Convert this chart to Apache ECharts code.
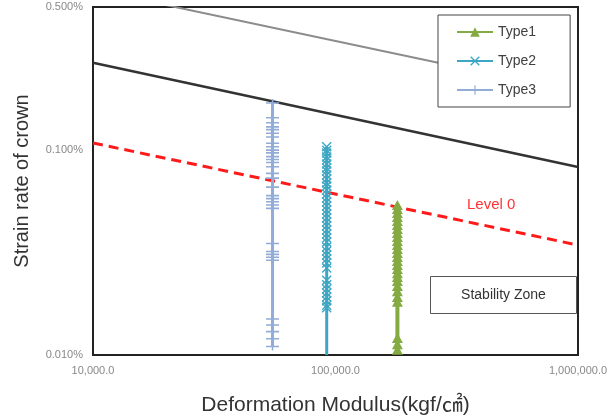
<!DOCTYPE html>
<html>
<head>
<meta charset="utf-8">
<script src="https://cdn.jsdelivr.net/npm/echarts@6/dist/echarts.min.js"></script>
<style>
  html, body { margin: 0; padding: 0; background: #fff; }
  #chart { width: 607px; height: 416px; }
</style>
</head>
<body>
<div id="chart"></div>
<script>
// 데이터 (y 값 단위: %)
const type1X = 180000
const type1Y = [0.0540, 0.0516, 0.0494, 0.0472, 0.0451, 0.0431, 0.0412, 0.0394, 0.0377, 0.0360,
  0.0344, 0.0329, 0.0315, 0.0301, 0.0288, 0.0275, 0.0263, 0.0251, 0.0240, 0.0230,
  0.0217, 0.0205, 0.0192, 0.0182, 0.0121, 0.0113, 0.0106]

const type2X = 92000
const type2Y = [0.104, 0.100, 0.0969, 0.0927, 0.0896, 0.0856, 0.0819, 0.0791, 0.0757, 0.0723,
  0.0692, 0.0669, 0.0639, 0.0611, 0.0584, 0.0559, 0.0534, 0.0511, 0.0488, 0.0467,
  0.0446, 0.0427, 0.0408, 0.0390, 0.0373, 0.0356, 0.0337, 0.0322, 0.0308, 0.0294,
  0.0281, 0.0266, 0.0232, 0.0220, 0.0210, 0.0201, 0.0192, 0.0184, 0.0175, 0.0170]
const type2Bottom = 0.010

const type3X = 55000
const type3Y = [0.170, 0.144, 0.136, 0.130, 0.126, 0.121, 0.116, 0.108, 0.104, 0.100,
  0.097, 0.093, 0.090, 0.087, 0.083, 0.077, 0.073, 0.066, 0.060, 0.058,
  0.056, 0.054, 0.052, 0.035, 0.032, 0.031, 0.030, 0.029, 0.015, 0.014,
  0.013, 0.012, 0.011]

// 기준선 (양 끝 점)
const greyX = [10000, 300000]
const greyLine = [0.608, 0.259]
const refX = [10000, 1000000]
const blackLine = [0.267, 0.0828]
const level0Line = [0.1084, 0.0344]

const yTicks = [0.01, 0.1, 0.5]

const font = 'Liberation Sans, Arial, Noto Sans CJK KR, sans-serif'

const crossPath = 'path://M0,1 L1,0 L5,4 L9,0 L10,1 L6,5 L10,9 L9,10 L5,6 L1,10 L0,9 L4,5 Z'
const plusPath = 'path://M0,4 L10,4 L10,6 L0,6 Z M4.4,0 L5.6,0 L5.6,10 L4.4,10 Z'

function pairs(x, ys) {
  return ys.map(v => [x, v])
}

function twoPoints(xs, ys) {
  return [[xs[0], ys[0]], [xs[1], ys[1]]]
}

function fmtX(v) {
  return Math.round(v).toString().replace(/\B(?=(\d{3})+(?!\d))/g, ',') + '.0'
}

const chart = echarts.init(document.getElementById('chart'))

const option = {
  animation: false,
  backgroundColor: '#fff',
  grid: {
    left: 93, right: 29, top: 7, bottom: 61,
    outerBoundsMode: 'none',
    containLabel: false,
    show: true, borderColor: '#222', borderWidth: 2
  },
  xAxis: {
    type: 'log',
    logBase: 10,
    min: 10000,
    max: 1000000,
    name: 'Deformation Modulus(kgf/㎠)',
    nameLocation: 'middle',
    nameGap: 40,
    nameTextStyle: { fontSize: 21, color: '#333', fontFamily: font },
    axisLine: { lineStyle: { color: '#222', width: 2 } },
    axisTick: { show: false },
    splitLine: { show: false },
    axisLabel: {
      fontSize: 11, color: '#888', fontFamily: font, margin: 10,
      formatter: fmtX
    }
  },
  yAxis: {
    type: 'log',
    logBase: 10,
    min: yTicks[0],
    max: yTicks[2],
    name: 'Strain rate of crown',
    nameLocation: 'middle',
    nameRotate: 90,
    nameGap: 61,
    nameTextStyle: { fontSize: 20, color: '#333', fontFamily: font },
    axisLine: { lineStyle: { color: '#222', width: 2 } },
    axisTick: { show: false },
    splitLine: { show: false },
    axisLabel: {
      fontSize: 11, color: '#888', fontFamily: font, margin: 10,
      showMaxLabel: true,
      formatter: v => v.toFixed(3) + '%'
    }
  },
  legend: {
    data: ['Type1', 'Type2', 'Type3'],
    orient: 'vertical',
    left: 438,
    top: 15,
    backgroundColor: '#fff',
    borderColor: '#444',
    borderWidth: 1,
    padding: [10, 34, 10, 18],
    itemGap: 15,
    itemWidth: 36,
    itemHeight: 12,
    textStyle: { fontSize: 14, color: '#404040', fontFamily: font }
  },
  graphic: [
    {
      type: 'group',
      left: 430,
      top: 276,
      children: [
        { type: 'rect', shape: { x: 0, y: 0, width: 146, height: 37 },
          style: { fill: '#fff', stroke: '#555', lineWidth: 1 } },
        { type: 'text', x: 73, y: 19,
          style: { text: 'Stability Zone', fill: '#333', fontSize: 14, fontFamily: font,
            align: 'center', verticalAlign: 'middle' } }
      ]
    },
    {
      type: 'text', left: 467, top: 197,
      style: { text: 'Level 0', fill: '#ff3333', fontSize: 15, fontFamily: font }
    }
  ],
  series: [
    {
      name: 'grey', type: 'line', silent: true, symbol: 'none', z: 1,
      lineStyle: { color: '#8c8c8c', width: 2 },
      data: twoPoints(greyX, greyLine)
    },
    {
      name: 'black', type: 'line', silent: true, symbol: 'none', z: 1,
      lineStyle: { color: '#333', width: 2.5 },
      data: twoPoints(refX, blackLine)
    },
    {
      name: 'level0', type: 'line', silent: true, symbol: 'none', z: 3,
      lineStyle: { color: '#ff1a1a', width: 3, type: [10, 6] },
      data: twoPoints(refX, level0Line)
    },
    {
      name: 'Type3', type: 'line',
      symbol: plusPath, symbolSize: [13, 8],
      itemStyle: { color: '#92acd8' },
      lineStyle: { color: '#92acd8', width: 3 },
      data: pairs(type3X, type3Y)
    },
    {
      name: 'Type2', type: 'line',
      symbol: crossPath, symbolSize: 10,
      itemStyle: { color: '#3ea6c2' },
      lineStyle: { color: '#3ea6c2', width: 3 },
      data: pairs(type2X, type2Y).concat([{ value: [type2X, type2Bottom], symbol: 'none' }])
    },
    {
      name: 'Type1', type: 'line',
      symbol: 'triangle', symbolSize: [11, 10],
      itemStyle: { color: '#84ab42' },
      lineStyle: { color: '#84ab42', width: 4 },
      data: pairs(type1X, type1Y)
    }
  ]
}

chart.setOption(option)
</script>
</body>
</html>
